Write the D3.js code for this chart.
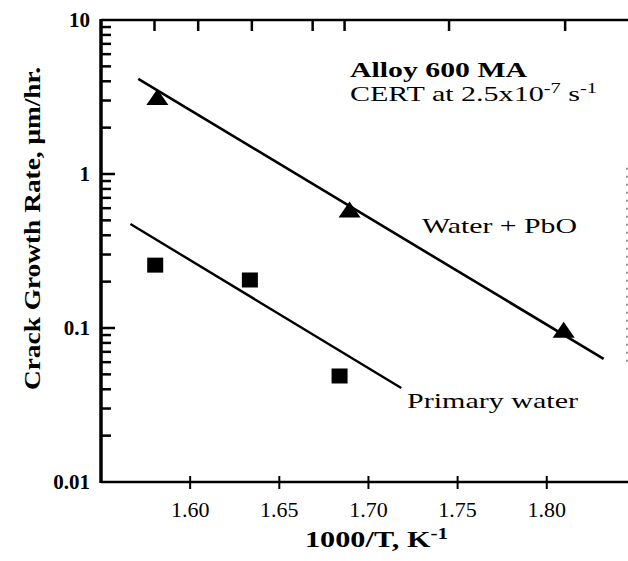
<!DOCTYPE html>
<html><head><meta charset="utf-8">
<script src="https://cdn.jsdelivr.net/npm/d3@7"></script>
<style>
html,body{margin:0;padding:0;background:#fff}
svg text{font-family:"Liberation Serif","Times New Roman",Times,serif;}
</style>
</head><body><svg id="c" width="628" height="561"></svg>
<script>
// ---- data ----
const xTicks = [1.60, 1.65, 1.70, 1.75, 1.80];
const xTickLabels = ["1.60", "1.65", "1.70", "1.75", "1.80"];
const yTicks = [10, 1, 0.1, 0.01];
const yTickLabels = ["10", "1", "0.1", "0.01"];
const topTicks = [1.580, 1.6045, 1.6346, 1.6687, 1.6866, 1.7452, 1.8103];
const pboX = [1.5816, 1.6894, 1.8095];
const pboY = [3.12, 0.58, 0.096];
const pwX = [1.5804, 1.6335, 1.6838];
const pwY = [0.256, 0.205, 0.0488];
const pboFitX = [1.5709, 1.8319];
const pboFitY = [4.14, 0.063];
const pwFitX = [1.5665, 1.7184];
const pwFitY = [0.4735, 0.0408];

const svg = d3.select("#c");
const x = d3.scaleLinear().domain([1.55, 1.845]).range([101, 627]);
const y = d3.scaleLog().domain([0.01, 10]).range([482, 20]);
const x0 = 101, x1 = 627, yb = 482, yt = 20;

// minor log ticks
const minor = [];
[0.01, 0.1, 1].forEach(d => { for (let k = 2; k <= 9; k++) minor.push(+(d * k).toPrecision(3)); });

const ticks = svg.append("g");
ticks.selectAll("line.mn").data(minor).join("line").attr("class", "mn")
  .attr("x1", x0).attr("x2", x0 + 10).attr("y1", d => y(d)).attr("y2", d => y(d))
  .attr("stroke", "#000").attr("stroke-width", 2.5);
ticks.selectAll("line.mj").data([1, 0.1]).join("line").attr("class", "mj")
  .attr("x1", x0).attr("x2", x0 + 14).attr("y1", d => y(d)).attr("y2", d => y(d))
  .attr("stroke", "#000").attr("stroke-width", 2.5);
ticks.selectAll("line.bt").data(xTicks).join("line").attr("class", "bt")
  .attr("x1", d => x(d)).attr("x2", d => x(d)).attr("y1", yb - 6).attr("y2", yb + 7)
  .attr("stroke", "#000").attr("stroke-width", 2);
ticks.selectAll("line.tp").data(topTicks).join("line").attr("class", "tp")
  .attr("x1", d => x(d)).attr("x2", d => x(d)).attr("y1", yt).attr("y2", yt + 11)
  .attr("stroke", "#000").attr("stroke-width", 2.5);

// frame
svg.append("line").attr("x1", x0).attr("x2", x0).attr("y1", yt - 1).attr("y2", yb + 1)
  .attr("stroke", "#000").attr("stroke-width", 3.5);
svg.append("line").attr("x1", x0).attr("x2", 628).attr("y1", yb).attr("y2", yb)
  .attr("stroke", "#000").attr("stroke-width", 2.5);
svg.append("line").attr("x1", x0).attr("x2", 628).attr("y1", yt).attr("y2", yt)
  .attr("stroke", "#000").attr("stroke-width", 2.5);
svg.append("line").attr("x1", x1).attr("x2", x1).attr("y1", y(1.1)).attr("y2", y(0.06))
  .attr("stroke", "#777").attr("stroke-width", 1.5).attr("stroke-dasharray", "2,6");

// tick labels
svg.append("g").selectAll("text").data(xTicks).join("text")
  .attr("x", d => x(d)).attr("y", 517).attr("text-anchor", "middle")
  .style("font-size", "22px").attr("fill", "#000")
  .text((d, i) => xTickLabels[i]);
svg.append("g").selectAll("text").data(yTicks).join("text")
  .attr("x", 90).attr("y", d => y(d)).attr("dy", "0.35em").attr("text-anchor", "end")
  .style("font-size", "21px").style("font-weight", "bold").attr("fill", "#000")
  .text((d, i) => yTickLabels[i]);

// fit lines
const line = d3.line().x(d => x(d[0])).y(d => y(d[1]));
svg.append("path").datum(d3.zip(pboFitX, pboFitY)).attr("d", line)
  .attr("fill", "none").attr("stroke", "#000").attr("stroke-width", 2.6);
svg.append("path").datum(d3.zip(pwFitX, pwFitY)).attr("d", line)
  .attr("fill", "none").attr("stroke", "#000").attr("stroke-width", 2.4);

// markers
svg.append("g").selectAll("path").data(d3.zip(pboX, pboY)).join("path")
  .attr("d", d => {
    const cx = x(d[0]), cy = y(d[1]);
    return `M${cx},${cy - 9}L${cx + 11},${cy + 7}L${cx - 11},${cy + 7}Z`;
  }).attr("fill", "#000");
svg.append("g").selectAll("rect").data(d3.zip(pwX, pwY)).join("rect")
  .attr("x", d => x(d[0]) - 8).attr("y", d => y(d[1]) - 7.5)
  .attr("width", 16).attr("height", 15).attr("fill", "#000");

// annotations
function txt(s, px, py, size, weight, len) {
  return svg.append("text").attr("x", px).attr("y", py)
    .style("font-size", size + "px").style("font-weight", weight).attr("fill", "#000")
    .attr("textLength", len).attr("lengthAdjust", "spacingAndGlyphs").text(s);
}
txt("Alloy 600 MA", 350, 77, 22, "bold", 177);
const cert = svg.append("text").attr("x", 350).attr("y", 101)
  .style("font-size", "22px").attr("fill", "#000").attr("textLength", 247).attr("lengthAdjust", "spacingAndGlyphs");
cert.append("tspan").text("CERT at 2.5x10");
cert.append("tspan").attr("dy", -8).style("font-size", "15px").text("-7");
cert.append("tspan").attr("dy", 8).text(" s");
cert.append("tspan").attr("dy", -8).style("font-size", "15px").text("-1");
txt("Water + PbO", 422, 233, 22, "normal", 155);
txt("Primary water", 407, 408, 22, "normal", 171);

const xl = svg.append("text").attr("x", 305).attr("y", 547)
  .style("font-size", "23px").style("font-weight", "bold").attr("fill", "#000")
  .attr("textLength", 143).attr("lengthAdjust", "spacingAndGlyphs");
xl.append("tspan").text("1000/T, K");
xl.append("tspan").attr("dy", -8).style("font-size", "16px").text("-1");

svg.append("text").attr("transform", "translate(40,390) rotate(-90)")
  .style("font-size", "24px").style("font-weight", "bold").attr("fill", "#000")
  .attr("textLength", 323).attr("lengthAdjust", "spacingAndGlyphs")
  .text("Crack Growth Rate, \u03bcm/hr.");
</script>
</body></html>
